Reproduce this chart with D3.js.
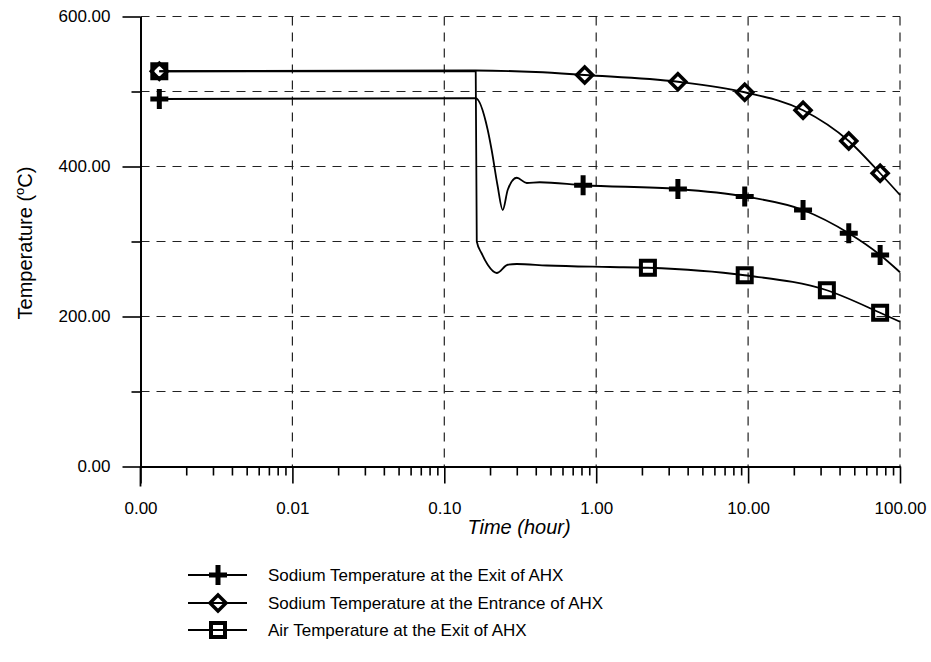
<!DOCTYPE html>
<html>
<head>
<meta charset="utf-8">
<script src="https://d3js.org/d3.v7.min.js"></script>
<style>
  body { margin: 0; background: #fff; }
  svg text { font-family: "Liberation Sans", Arial, sans-serif; fill: #000; }
</style>
</head>
<body>
<div id="chart"></div>
<script>
// Data (time in hours, temperature in deg C)

// Sodium temperature at the exit of AHX
const exitTime = [0.00133, 0.161, 0.193, 0.205, 0.224, 0.2425, 0.2617, 0.2998, 0.349, 0.425, 0.82, 3.45, 9.5, 23, 46, 74, 100];
const exitTemp = [490, 491, 449, 422, 375, 342, 369, 385, 378, 379, 375, 370, 360, 342, 311, 282, 259];
const exitMarkTime = [0.00133, 0.82, 3.45, 9.5, 23, 46, 74];
const exitMarkTemp = [490, 375, 370, 360, 342, 311, 282];

// Sodium temperature at the entrance of AHX
const entTime = [0.00133, 0.161, 0.4, 0.84, 3.45, 9.5, 23, 46, 74, 100];
const entTemp = [527, 528, 526, 522, 513, 499, 475, 434, 391, 362];
const entMarkTime = [0.00133, 0.84, 3.45, 9.5, 23, 46, 74];
const entMarkTemp = [527, 522, 513, 499, 475, 434, 391];

// Air temperature at the exit of AHX
const airTime = [0.00133, 0.161, 0.1636, 0.1763, 0.1931, 0.2214, 0.2617, 0.2998, 0.4727, 1.229, 2.19, 9.5, 33, 74, 100];
const airTemp = [527, 527, 300, 284, 269, 258, 269, 270, 268, 266, 265, 255, 235, 205, 193];
const airMarkTime = [0.00133, 2.19, 9.5, 33, 74];
const airMarkTemp = [527, 265, 255, 235, 205];

const xTickValues = [0.001, 0.01, 0.1, 1, 10, 100];
const xTickLabels = ["0.00", "0.01", "0.10", "1.00", "10.00", "100.00"];
const yTickValues = [0, 200, 400, 600];
const yTickLabels = ["0.00", "200.00", "400.00", "600.00"];
const yMinorValues = [100, 300, 500];

const legendLabels = [
  "Sodium Temperature at the Exit of AHX",
  "Sodium Temperature at the Entrance of AHX",
  "Air Temperature at the Exit of AHX"
];

const width = 931, height = 662;
const x = d3.scaleLog().domain([0.001, 100]).range([140.5, 900]);
const y = d3.scaleLinear().domain([0, 600]).range([466.5, 16.5]);

const svg = d3.select("#chart").append("svg")
  .attr("width", width).attr("height", height);

// minor x ticks 2..9 of each decade
const xMinorValues = [];
for (let d = 0.001; d < 100; d *= 10) {
  for (let k = 2; k <= 9; k++) xMinorValues.push(+(d * k).toPrecision(3));
}

// dashed grid
const grid = svg.append("g")
  .attr("stroke", "#222").attr("stroke-width", 1.2).attr("stroke-dasharray", "9,7");
grid.selectAll(".hg").data([100, 200, 300, 400, 500, 600]).enter().append("line")
  .attr("x1", x(0.001)).attr("x2", x(100))
  .attr("y1", d => y(d)).attr("y2", d => y(d));
grid.selectAll(".vg").data([0.01, 0.1, 1, 10, 100]).enter().append("line")
  .attr("x1", d => x(d)).attr("x2", d => x(d))
  .attr("y1", y(600)).attr("y2", y(0));

// axes
const yAxis = svg.append("g").attr("transform", `translate(${x(0.001)},0)`)
  .call(d3.axisLeft(y).tickValues(yTickValues).tickSize(18).tickSizeOuter(0)
    .tickPadding(12).tickFormat((d, i) => yTickLabels[i]));
const yMinor = svg.append("g").attr("transform", `translate(${x(0.001)},0)`)
  .call(d3.axisLeft(y).tickValues(yMinorValues).tickSize(9).tickSizeOuter(0).tickFormat(""));
const xAxis = svg.append("g").attr("transform", `translate(0,${y(0)})`)
  .call(d3.axisBottom(x).tickValues(xTickValues).tickSize(17).tickSizeOuter(0)
    .tickPadding(18).tickFormat((d, i) => xTickLabels[i]));
const xMinor = svg.append("g").attr("transform", `translate(0,${y(0)})`)
  .call(d3.axisBottom(x).tickValues(xMinorValues).tickSize(9).tickSizeOuter(0).tickFormat(""));

[yAxis, yMinor, xAxis, xMinor].forEach(g => {
  g.select(".domain").attr("stroke", "#000").attr("stroke-width", 1.8);
  g.selectAll(".tick line").attr("stroke", "#000").attr("stroke-width", 1.6);
  g.selectAll(".tick text").attr("font-size", 17).attr("font-family", "Liberation Sans, Arial, sans-serif");
});
// left axis runs down past the x axis
svg.append("line").attr("x1", x(0.001)).attr("x2", x(0.001))
  .attr("y1", y(0)).attr("y2", y(0) + 20).attr("stroke", "#000").attr("stroke-width", 1.8);

// titles
svg.append("text").attr("x", 519).attr("y", 534).attr("text-anchor", "middle")
  .attr("font-size", 20).attr("font-style", "italic").text("Time (hour)");
const yt = svg.append("text").attr("transform", "translate(32,243) rotate(-90)")
  .attr("text-anchor", "middle").attr("font-size", 20);
yt.append("tspan").text("Temperature (");
yt.append("tspan").attr("font-size", 13).attr("dy", -8).text("o");
yt.append("tspan").attr("dy", 8).text("C)");

// lines
const line = d3.line().x(d => x(d[0])).y(d => y(d[1])).curve(d3.curveMonotoneX);
const zip = (a, b) => a.map((t, i) => [t, b[i]]);

const series = [
  { time: entTime, temp: entTemp, mt: entMarkTime, mv: entMarkTemp, shape: "diamond" },
  { time: exitTime, temp: exitTemp, mt: exitMarkTime, mv: exitMarkTemp, shape: "plus" },
  { time: airTime, temp: airTemp, mt: airMarkTime, mv: airMarkTemp, shape: "square" }
];

function drawMarker(g, shape, cx, cy) {
  if (shape === "plus") {
    g.append("path").attr("d", `M${cx - 9},${cy}H${cx + 9}M${cx},${cy - 10}V${cy + 10}`)
      .attr("stroke", "#000").attr("stroke-width", 5).attr("fill", "none");
  } else if (shape === "diamond") {
    g.append("path").attr("d", `M${cx},${cy - 8}L${cx + 8},${cy}L${cx},${cy + 8}L${cx - 8},${cy}Z`)
      .attr("stroke", "#000").attr("stroke-width", 3.5).attr("fill", "none");
  } else {
    g.append("rect").attr("x", cx - 7).attr("y", cy - 7).attr("width", 14).attr("height", 14)
      .attr("stroke", "#000").attr("stroke-width", 4).attr("fill", "none");
  }
}

series.forEach(s => {
  svg.append("path").datum(zip(s.time, s.temp)).attr("d", line)
    .attr("fill", "none").attr("stroke", "#000").attr("stroke-width", 1.8);
});
series.forEach(s => {
  const g = svg.append("g");
  zip(s.mt, s.mv).forEach(p => drawMarker(g, s.shape, x(p[0]), y(p[1])));
});

// legend
const legendShapes = ["plus", "diamond", "square"];
const legendY = [575, 603, 630];
legendLabels.forEach((lab, i) => {
  const g = svg.append("g");
  g.append("line").attr("x1", 188).attr("x2", 247).attr("y1", legendY[i]).attr("y2", legendY[i])
    .attr("stroke", "#000").attr("stroke-width", 1.8);
  drawMarker(g, legendShapes[i], 218, legendY[i]);
  g.append("text").attr("x", 268).attr("y", legendY[i] + 6).attr("font-size", 17).text(lab);
});
</script>
</body>
</html>
